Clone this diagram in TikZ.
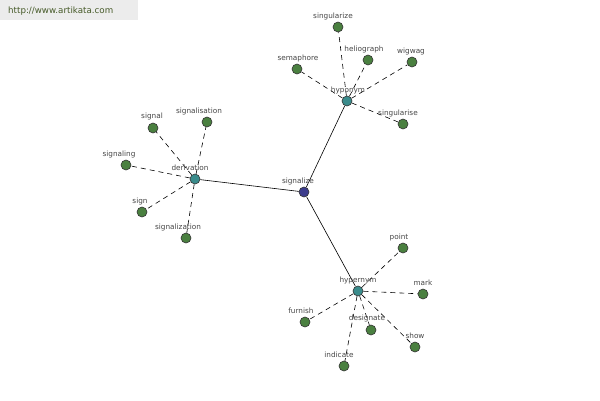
\documentclass[tikz,border=0pt]{standalone}
\usepackage{fontspec}
\setmainfont{DejaVu Sans}
\definecolor{leafc}{RGB}{74,128,64}
\definecolor{hubc}{RGB}{58,140,140}
\definecolor{centc}{RGB}{60,60,140}
\definecolor{txtc}{RGB}{70,70,70}
\definecolor{urlbg}{RGB}{236,236,236}
\definecolor{urltxt}{RGB}{70,90,40}
\tikzset{
  dot/.style={circle,draw=black!80,line width=0.6pt,minimum size=10pt,inner sep=0pt},
  leaf/.style={dot,fill=leafc},
  hub/.style={dot,fill=hubc},
  cent/.style={dot,fill=centc},
  lbl/.style={font=\fontsize{7.3}{8}\selectfont,text=txtc,inner sep=0pt},
  dline/.style={dash pattern=on 5pt off 4pt,line width=0.6pt},
  sline/.style={line width=0.6pt}
}
\begin{document}
\begin{tikzpicture}[x=1pt,y=-1pt]
\useasboundingbox (0,0) rectangle (600,400);
\fill[white] (0,0) rectangle (600,400);
\fill[urlbg] (0,0) rectangle (138,20);
\node[font=\fontsize{8.7}{10}\selectfont,text=urltxt,anchor=west,inner sep=0pt] (url) at (8,11) {http://www.artikata.com};
% nodes
\node[cent] (signalize) at (304,192) {};
\node[hub] (derivation) at (195,179) {};
\node[hub] (hyponym) at (347,101) {};
\node[hub] (hypernym) at (358,291) {};
\node[leaf] (singularize) at (338,27) {};
\node[leaf] (heliograph) at (368,60) {};
\node[leaf] (wigwag) at (412,62) {};
\node[leaf] (semaphore) at (297,69) {};
\node[leaf] (singularise) at (403,124) {};
\node[leaf] (signal) at (153,128) {};
\node[leaf] (signalisation) at (207,122) {};
\node[leaf] (signaling) at (126,165) {};
\node[leaf] (sign) at (142,212) {};
\node[leaf] (signalization) at (186,238) {};
\node[leaf] (point) at (403,248) {};
\node[leaf] (mark) at (423,294) {};
\node[leaf] (furnish) at (305,322) {};
\node[leaf] (designate) at (371,330) {};
\node[leaf] (show) at (415,347) {};
\node[leaf] (indicate) at (344,366) {};
% edges
\draw[sline] (signalize) -- (derivation);
\draw[sline] (signalize) -- (hyponym);
\draw[sline] (signalize) -- (hypernym);
\foreach \l in {singularize,heliograph,wigwag,semaphore,singularise}
  \draw[dline] (hyponym) -- (\l);
\foreach \l in {signal,signalisation,signaling,sign,signalization}
  \draw[dline] (derivation) -- (\l);
\foreach \l in {point,mark,furnish,designate,show,indicate}
  \draw[dline] (hypernym) -- (\l);
% labels
\node[lbl] (Lsignalize) at (298,181) {signalize};
\node[lbl] (Lderivation) at (190,168) {derivation};
\node[lbl] (Lhyponym) at (348,90) {hyponym};
\node[lbl] (Lhypernym) at (358,280) {hypernym};
\node[lbl] (Lsingularize) at (333,16) {singularize};
\node[lbl] (Lheliograph) at (364,49) {heliograph};
\node[lbl] (Lwigwag) at (411,51) {wigwag};
\node[lbl] (Lsemaphore) at (298,58) {semaphore};
\node[lbl] (Lsingularise) at (398,113) {singularise};
\node[lbl] (Lsignal) at (152,116) {signal};
\node[lbl] (Lsignalisation) at (199,111) {signalisation};
\node[lbl] (Lsignaling) at (119,154) {signaling};
\node[lbl] (Lsign) at (140,201) {sign};
\node[lbl] (Lsignalization) at (178,227) {signalization};
\node[lbl] (Lpoint) at (399,237) {point};
\node[lbl] (Lmark) at (423,283) {mark};
\node[lbl] (Lfurnish) at (301,311) {furnish};
\node[lbl] (Ldesignate) at (367,318) {designate};
\node[lbl] (Lshow) at (415,336) {show};
\node[lbl] (Lindicate) at (339,355) {indicate};
\end{tikzpicture}
\end{document}
